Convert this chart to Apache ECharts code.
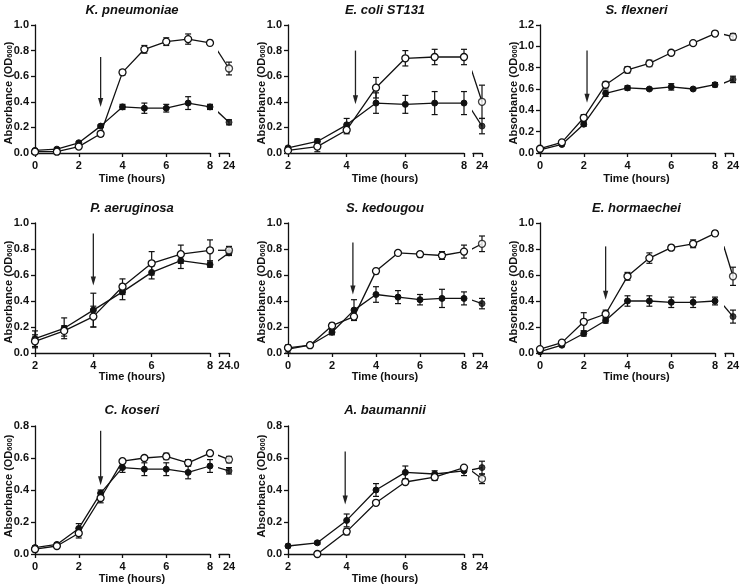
<!DOCTYPE html>
<html>
<head>
<meta charset="utf-8">
<script src="https://cdn.jsdelivr.net/npm/echarts@6/dist/echarts.min.js"></script>
<style>
  html, body { margin: 0; background: #fff; }
  #chart { width: 741px; height: 588px; }
</style>
</head>
<body>
<div id="chart"></div>
<script>
// panel order: left to right, top to bottom
var titles = ['K. pneumoniae', 'E. coli ST131', 'S. flexneri', 'P. aeruginosa', 'S. kedougou', 'E. hormaechei', 'C. koseri', 'A. baumannii'];
var hoursFrom0 = [0, 1, 2, 3, 4, 5, 6, 7, 8, 24];
var hoursFrom2 = [2, 3, 4, 5, 6, 7, 8, 24];
var hours = [hoursFrom0, hoursFrom2, hoursFrom0, hoursFrom2, hoursFrom0, hoursFrom0, hoursFrom0, hoursFrom2];
var xStart = [0, 2, 0, 2, 0, 0, 0, 2];
var yMax = [1.0, 1.0, 1.2, 1.0, 1.0, 1.0, 0.8, 0.8];
var lateLabel = ['24', '24', '24', '24.0', '24', '24', '24', '24'];

// open circles
var openMean = [
  [0.01, 0.01, 0.05, 0.15, 0.63, 0.81, 0.87, 0.89, 0.86, 0.66],
  [0.02, 0.05, 0.18, 0.51, 0.74, 0.75, 0.75, 0.40],
  [0.04, 0.10, 0.33, 0.64, 0.78, 0.84, 0.94, 1.03, 1.12, 1.09],
  [0.09, 0.17, 0.28, 0.51, 0.69, 0.76, 0.79, 0.79],
  [0.04, 0.06, 0.21, 0.28, 0.63, 0.77, 0.76, 0.75, 0.78, 0.84],
  [0.03, 0.08, 0.24, 0.30, 0.59, 0.73, 0.81, 0.84, 0.92, 0.59],
  [0.03, 0.05, 0.13, 0.35, 0.58, 0.60, 0.61, 0.57, 0.63, 0.59],
  [null, 0.00, 0.14, 0.32, 0.45, 0.48, 0.54, 0.47]
];
var openSd = [
  [0.01, 0.01, 0.01, 0.02, 0.02, 0.03, 0.03, 0.04, 0.02, 0.05],
  [0.01, 0.04, 0.03, 0.08, 0.06, 0.06, 0.06, 0.13],
  [0.01, 0.01, 0.03, 0.03, 0.03, 0.03, 0.01, 0.01, 0.02, 0.03],
  [0.05, 0.04, 0.08, 0.06, 0.09, 0.07, 0.08, 0.03],
  [0.02, 0.01, 0.02, 0.02, 0.02, 0.01, 0.02, 0.03, 0.05, 0.06],
  [0.01, 0.01, 0.07, 0.03, 0.03, 0.04, 0.02, 0.03, 0.02, 0.07],
  [0.01, 0.01, 0.03, 0.03, 0.01, 0.01, 0.02, 0.02, 0.01, 0.02],
  [null, 0.01, 0.02, 0.01, 0.01, 0.02, 0.01, 0.03]
];
// filled circles
var filledMean = [
  [0.02, 0.03, 0.08, 0.21, 0.36, 0.35, 0.35, 0.39, 0.36, 0.24],
  [0.04, 0.09, 0.22, 0.39, 0.38, 0.39, 0.39, 0.21],
  [0.03, 0.08, 0.27, 0.56, 0.61, 0.60, 0.62, 0.60, 0.64, 0.69],
  [0.11, 0.19, 0.33, 0.47, 0.62, 0.71, 0.68, 0.77],
  [0.03, 0.06, 0.16, 0.33, 0.45, 0.43, 0.41, 0.42, 0.42, 0.38],
  [0.01, 0.06, 0.15, 0.25, 0.40, 0.40, 0.39, 0.39, 0.40, 0.28],
  [0.04, 0.06, 0.16, 0.38, 0.54, 0.53, 0.53, 0.51, 0.55, 0.52],
  [0.05, 0.07, 0.21, 0.40, 0.51, 0.50, 0.52, 0.54]
];
var filledSd = [
  [0.01, 0.01, 0.01, 0.01, 0.02, 0.04, 0.03, 0.05, 0.02, 0.02],
  [0.01, 0.02, 0.05, 0.08, 0.07, 0.09, 0.09, 0.06],
  [0.01, 0.01, 0.02, 0.03, 0.02, 0.01, 0.03, 0.01, 0.02, 0.03],
  [0.06, 0.08, 0.13, 0.06, 0.05, 0.06, 0.02, 0.02],
  [0.03, 0.01, 0.02, 0.08, 0.06, 0.05, 0.04, 0.07, 0.05, 0.04],
  [0.01, 0.01, 0.02, 0.02, 0.04, 0.04, 0.04, 0.04, 0.03, 0.05],
  [0.01, 0.01, 0.03, 0.02, 0.03, 0.04, 0.04, 0.04, 0.04, 0.02],
  [0.01, 0.01, 0.04, 0.04, 0.04, 0.02, 0.03, 0.04]
];
// treatment arrows: time, top value, tip value
var arrowAt = [3, 4.3, 2.15, 4, 2.95, 3, 3, 3.95];
var arrowFrom = [0.75, 0.80, 0.96, 0.92, 0.85, 0.82, 0.77, 0.64];
var arrowTo = [0.36, 0.38, 0.47, 0.52, 0.45, 0.41, 0.43, 0.31];

// layout in px
var colMain = [[35, 210], [288, 464], [540, 715]];
var colLate = [[219, 229], [473, 482], [725, 733]];
var rowY = [[25, 153], [223, 353], [426, 554]];
var titleY = [10, 208, 410];
var xNameY = [179, 377, 579];
var yNameY = [93, 292, 486];

var ink = '#111';
var font = '"Liberation Sans", Arial, sans-serif';
var bendFrac = 0.3;

function renderErr(params, api) {
  var x = api.value(0), y = api.value(1), e = api.value(2);
  if (!e) return;
  var a = api.coord([x, y + e]);
  var b = api.coord([x, y - e]);
  var st = { stroke: ink, lineWidth: 1.2 };
  return {
    type: 'group',
    children: [
      { type: 'line', shape: { x1: a[0], y1: a[1], x2: b[0], y2: b[1] }, style: st },
      { type: 'line', shape: { x1: a[0] - 3, y1: a[1], x2: a[0] + 3, y2: a[1] }, style: st },
      { type: 'line', shape: { x1: b[0] - 3, y1: b[1], x2: b[0] + 3, y2: b[1] }, style: st }
    ]
  };
}

function renderArrow(params, api) {
  var top = api.coord([api.value(0), api.value(1)]);
  var tip = api.coord([api.value(0), api.value(2)]);
  var len = 9, half = 2.6;
  return {
    type: 'group',
    children: [
      { type: 'line', shape: { x1: top[0], y1: top[1], x2: tip[0], y2: tip[1] - len + 1 }, style: { stroke: '#222', lineWidth: 1.3 } },
      { type: 'polygon', shape: { points: [[tip[0] - half, tip[1] - len], [tip[0] + half, tip[1] - len], [tip[0], tip[1]]] }, style: { fill: '#222' } }
    ]
  };
}

var grid = [], xAxis = [], yAxis = [], series = [], graphic = [];
var axisLine = { show: true, lineStyle: { color: ink, width: 1.3 } };
var axisTick = { show: true, length: 4, lineStyle: { color: ink, width: 1.3 } };
var labelStyle = { color: ink, fontFamily: font, fontWeight: 'bold', fontSize: 11 };

titles.forEach(function (name, p) {
  var col = p % 3, row = Math.floor(p / 3);
  var a = colMain[col], b = colLate[col], r = rowY[row];
  var gA = 2 * p, gB = 2 * p + 1;
  var hrs = hours[p], last = hrs.length - 1;

  grid.push({ left: a[0], top: r[0], width: a[1] - a[0], height: r[1] - r[0], outerBoundsMode: 'none' });
  grid.push({ left: b[0], top: r[0], width: b[1] - b[0], height: r[1] - r[0], outerBoundsMode: 'none' });

  xAxis.push({
    type: 'value', gridIndex: gA, min: xStart[p], max: 8, interval: 2,
    axisLine: axisLine, axisTick: axisTick, splitLine: { show: false },
    axisLabel: Object.assign({ margin: 7 }, labelStyle)
  });
  xAxis.push({
    type: 'value', gridIndex: gB, min: 23, max: 24, interval: 1,
    axisLine: axisLine, axisTick: axisTick, splitLine: { show: false },
    axisLabel: Object.assign({ margin: 7, formatter: function (v) { return v === 24 ? lateLabel[p] : ''; } }, labelStyle)
  });
  yAxis.push({
    type: 'value', gridIndex: gA, min: 0, max: yMax[p], interval: 0.2,
    axisLine: axisLine, axisTick: axisTick, splitLine: { show: false },
    axisLabel: Object.assign({ margin: 6, formatter: function (v) { return v.toFixed(1); } }, labelStyle)
  });
  yAxis.push({ type: 'value', gridIndex: gB, min: 0, max: yMax[p], show: false, splitLine: { show: false } });

  function mainPts(vals) {
    var out = [];
    for (var i = 0; i < last; i++) if (vals[i] != null) out.push([hrs[i], vals[i]]);
    return out;
  }
  function errPts(from, to) {
    var out = [];
    for (var i = from; i < to; i++) {
      if (openMean[p][i] != null) out.push([hrs[i], openMean[p][i], openSd[p][i]]);
      out.push([hrs[i], filledMean[p][i], filledSd[p][i]]);
    }
    return out;
  }
  var openStyle = { color: '#fff', borderColor: ink, borderWidth: 1.3 };
  var filledStyle = { color: ink, borderColor: ink, borderWidth: 1 };
  var lineStyle = { color: ink, width: 1.3 };

  // main section
  series.push({ type: 'custom', xAxisIndex: gA, yAxisIndex: gA, renderItem: renderErr, data: errPts(0, last), z: 2, clip: false, silent: true });
  series.push({ type: 'line', xAxisIndex: gA, yAxisIndex: gA, data: mainPts(filledMean[p]), symbol: 'circle', symbolSize: 6,
    lineStyle: lineStyle, itemStyle: filledStyle, z: 3, silent: true });
  series.push({ type: 'line', xAxisIndex: gA, yAxisIndex: gA, data: mainPts(openMean[p]), symbol: 'circle', symbolSize: 7,
    lineStyle: lineStyle, itemStyle: openStyle, z: 4, silent: true });
  series.push({ type: 'custom', xAxisIndex: gA, yAxisIndex: gA, renderItem: renderArrow,
    data: [[arrowAt[p], arrowFrom[p], arrowTo[p]]], z: 5, clip: false, silent: true });

  // 24 h section, with the broken link across the gap
  [filledMean[p], openMean[p]].forEach(function (vals) {
    var y8 = vals[last - 1], y24 = vals[last];
    series.push({ type: 'line', xAxisIndex: gB, yAxisIndex: gB, showSymbol: false, clip: false, silent: true,
      data: [[22.85, y8 + bendFrac * (y24 - y8)], [24, y24]], lineStyle: lineStyle, z: 3 });
  });
  series.push({ type: 'custom', xAxisIndex: gB, yAxisIndex: gB, renderItem: renderErr, data: errPts(last, last + 1), z: 2, clip: false, silent: true });
  series.push({ type: 'scatter', xAxisIndex: gB, yAxisIndex: gB, data: [[24, filledMean[p][last]]], symbol: 'circle', symbolSize: 6, itemStyle: filledStyle, z: 4, silent: true });
  series.push({ type: 'scatter', xAxisIndex: gB, yAxisIndex: gB, data: [[24, openMean[p][last]]], symbol: 'circle', symbolSize: 7, itemStyle: openStyle, z: 5, silent: true });

  // panel text
  var cx = (a[0] + b[1]) / 2;
  graphic.push({ type: 'text', x: cx, y: titleY[row], style: { text: name, fill: ink, font: 'italic bold 13px ' + font, align: 'center', verticalAlign: 'middle', textAlign: 'center', textVerticalAlign: 'middle' } });
  graphic.push({ type: 'text', x: cx, y: xNameY[row], style: { text: 'Time (hours)', fill: ink, font: 'bold 11px ' + font, align: 'center', verticalAlign: 'middle', textAlign: 'center', textVerticalAlign: 'middle' } });
  graphic.push({ type: 'text', x: a[0] - 27, y: yNameY[row], rotation: Math.PI / 2,
    style: { text: '{m|Absorbance (OD}{s|600}{m|)}', fill: ink, align: 'center', verticalAlign: 'middle', textAlign: 'center', textVerticalAlign: 'middle',
      rich: {
        m: { fontFamily: font, fontWeight: 'bold', fontSize: 11, fill: ink, lineHeight: 12, verticalAlign: 'bottom' },
        s: { fontFamily: font, fontWeight: 'bold', fontSize: 7.5, fill: ink, lineHeight: 12, verticalAlign: 'bottom', padding: [3, 0, 0, 0] }
      } } });
});

var myChart = echarts.init(document.getElementById('chart'), null, { renderer: 'canvas' });
myChart.setOption({
  animation: false,
  backgroundColor: '#fff',
  grid: grid,
  xAxis: xAxis,
  yAxis: yAxis,
  series: series,
  graphic: graphic
});
</script>
</body>
</html>
